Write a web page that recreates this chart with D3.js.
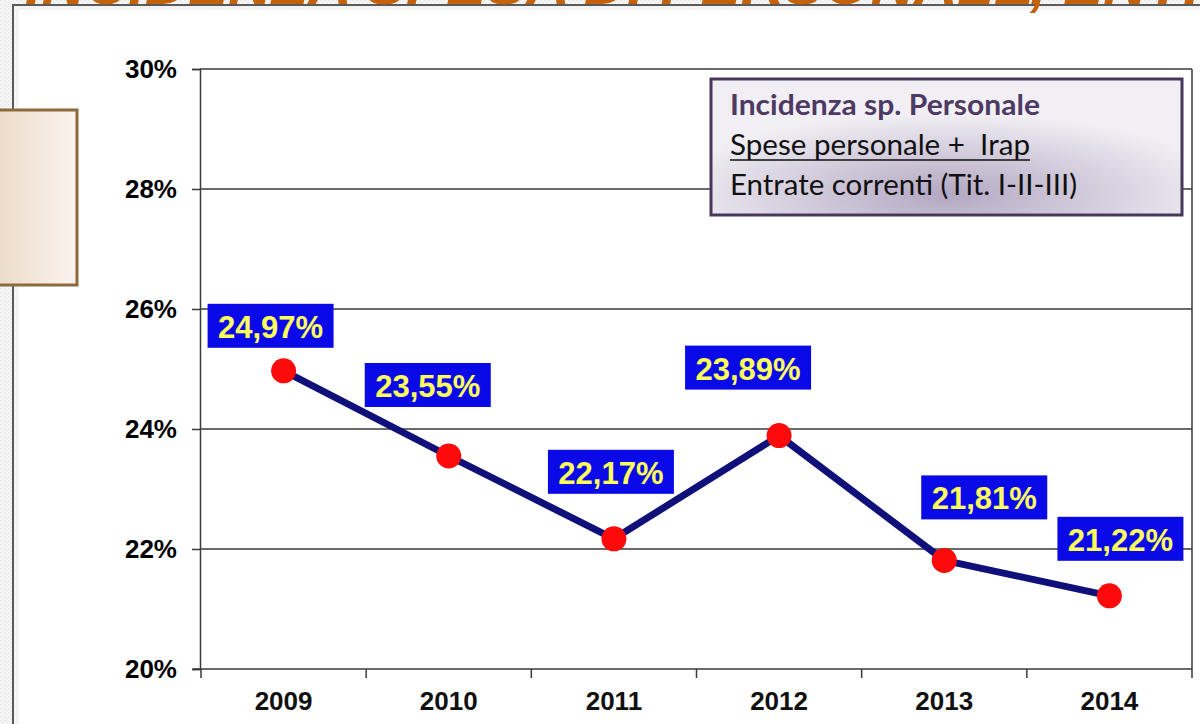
<!DOCTYPE html>
<html>
<head>
<meta charset="utf-8">
<script src="https://cdn.jsdelivr.net/npm/d3@7"></script>
<style>
html,body{margin:0;padding:0;background:#fff;}
svg{display:block;}
</style>
</head>
<body>
<svg id="chart" width="1200" height="724"></svg>
<script>
// ---- data ----
const years = ["2009", "2010", "2011", "2012", "2013", "2014"];
const values = [24.97, 23.55, 22.17, 23.89, 21.81, 21.22];
const valueLabels = ["24,97%", "23,55%", "22,17%", "23,89%", "21,81%", "21,22%"];
const yTicks = [20, 22, 24, 26, 28, 30];
const yTickLabels = ["20%", "22%", "24%", "26%", "28%", "30%"];
const legendLines = ["Incidenza sp. Personale", "Spese personale +  Irap", "Entrate correnti (Tit. I-II-III)"];
const titleText = ["INCIDENZA SPESA DI PERSONALE", ", ENTRATE CORRENTI"];

// ---- drawing ----
const svg = d3.select("#chart");
const defs = svg.append("defs");

// slide background (outside content frame)
const pat = defs.append("pattern").attr("id","speck").attr("width",4).attr("height",4).attr("patternUnits","userSpaceOnUse");
pat.append("rect").attr("width",4).attr("height",4).attr("fill","#f4f4f4");
pat.append("rect").attr("x",0).attr("y",0).attr("width",1).attr("height",1).attr("fill","#e2e2e2");
pat.append("rect").attr("x",2).attr("y",2).attr("width",1).attr("height",1).attr("fill","#e6e6e6");
svg.append("rect").attr("x",0).attr("y",0).attr("width",1200).attr("height",724).attr("fill","url(#speck)");
svg.append("rect").attr("x",13).attr("y",5).attr("width",1187).attr("height",719).attr("fill","#ffffff");
svg.append("rect").attr("x",14).attr("y",6).attr("width",1186).attr("height",4).attr("fill","#f3f3f3");
svg.append("rect").attr("x",14).attr("y",6).attr("width",5).attr("height",718).attr("fill","#f5f5f5");
svg.append("line").attr("x1",12).attr("x2",1200).attr("y1",5).attr("y2",5).attr("stroke","#5a5a5a").attr("stroke-width",2);
svg.append("line").attr("x1",13).attr("x2",13).attr("y1",4).attr("y2",724).attr("stroke","#5a5a5a").attr("stroke-width",2);

// cut-off title (the original slide title is cropped at the top edge)
const tg = svg.append("g").attr("font-family","Liberation Sans, Arial, sans-serif")
  .attr("font-weight","bold").attr("font-style","italic").attr("font-size",60).attr("fill","#c4620c");
tg.append("text").attr("x",1034).attr("y",4).attr("text-anchor","end").text(titleText[0]);
tg.append("text").attr("x",1030).attr("y",4).text(titleText[1]);

// beige box at left
const bg = defs.append("linearGradient").attr("id","beige").attr("x1","0").attr("x2","1").attr("y1","0").attr("y2","0");
bg.append("stop").attr("offset","0").attr("stop-color","#ecdbc8");
bg.append("stop").attr("offset","1").attr("stop-color","#faf4ef");
svg.append("rect").attr("x",-3).attr("y",110).attr("width",80).attr("height",175)
  .attr("fill","url(#beige)").attr("stroke","#8b6a3e").attr("stroke-width",3);

// scales
const x = d3.scaleBand().domain(years).range([201, 1192]).padding(0);
const y = d3.scaleLinear().domain([20, 30]).range([669, 69]);

// gridlines
svg.append("g").selectAll("line").data(yTicks.filter(t => t > 20)).join("line")
  .attr("x1",200).attr("x2",1192).attr("y1",d=>y(d)).attr("y2",d=>y(d))
  .attr("stroke","#3a3a3a").attr("stroke-width",1.5);

// plot right edge
svg.append("line").attr("x1",1192).attr("x2",1192).attr("y1",y(30)).attr("y2",y(20))
  .attr("stroke","#3a3a3a").attr("stroke-width",1.5);

// y axis
const yAxis = d3.axisLeft(y).tickValues(yTicks).tickSize(8).tickFormat((d,i)=>yTickLabels[i]).tickPadding(15);
const ya = svg.append("g").attr("transform","translate(200,0)").call(yAxis);
ya.select(".domain").attr("stroke","#3a3a3a").attr("stroke-width",1.5);
ya.selectAll(".tick line").attr("stroke","#3a3a3a").attr("stroke-width",1.5);
ya.selectAll(".tick text").attr("font-family","Liberation Sans, Arial, sans-serif")
  .attr("font-weight","bold").attr("font-size",26).attr("fill","#000");

// x axis with ticks at category boundaries
const xa = svg.append("g").attr("transform","translate(0,669)");
xa.append("line").attr("x1",193).attr("x2",1192).attr("y1",0).attr("y2",0).attr("stroke","#3a3a3a").attr("stroke-width",1.5);
const boundaries = years.map(d => x(d)).concat([x(years[years.length-1]) + x.bandwidth()]);
xa.selectAll("line.tk").data(boundaries).join("line").attr("class","tk")
  .attr("x1",d=>d).attr("x2",d=>d).attr("y1",0).attr("y2",9).attr("stroke","#3a3a3a").attr("stroke-width",1.5);
xa.selectAll("text").data(years).join("text")
  .attr("x",d=>x(d)+x.bandwidth()/2).attr("y",41).attr("text-anchor","middle")
  .attr("font-family","Liberation Sans, Arial, sans-serif").attr("font-weight","bold").attr("font-size",26)
  .attr("fill","#111").text(d=>d);

// legend box
const lg = defs.append("radialGradient").attr("id","lav").attr("cx","0.5").attr("cy","0.85").attr("r","0.6");
lg.append("stop").attr("offset","0").attr("stop-color","#b3a7c2");
lg.append("stop").attr("offset","0.6").attr("stop-color","#d8d2e0");
lg.append("stop").attr("offset","1").attr("stop-color","#f1eff4");
svg.append("rect").attr("x",711).attr("y",79).attr("width",471).attr("height",136)
  .attr("fill","url(#lav)").attr("stroke","#48385c").attr("stroke-width",3);
const lgText = svg.append("g").attr("font-family","Lato, 'Open Sans', sans-serif").attr("font-size",28);
const legendWidths = [310, 300, 347];
lgText.selectAll("text").data(legendLines).join("text")
  .attr("x",730).attr("y",(d,i)=>115 + i*40)
  .attr("font-weight",(d,i)=> i===0 ? "bold" : "normal")
  .attr("fill",(d,i)=> i===0 ? "#4d3a63" : "#111")
  .attr("textLength",(d,i)=>legendWidths[i]).attr("lengthAdjust","spacingAndGlyphs")
  .text(d=>d.replace(/  /g, " \u00a0"));
svg.append("line").attr("x1",730).attr("x2",1030).attr("y1",160).attr("y2",160).attr("stroke","#111").attr("stroke-width",1.5);

// line series
const cx = d => x(d) + x.bandwidth()/2;
const pts = years.map((d,i)=>[cx(d), y(values[i])]);
svg.append("path").datum(pts).attr("d", d3.line())
  .attr("fill","none").attr("stroke","#10107a").attr("stroke-width",7).attr("stroke-linejoin","round");
svg.append("g").selectAll("circle").data(pts).join("circle")
  .attr("cx",d=>d[0]).attr("cy",d=>d[1]).attr("r",12.5).attr("fill","#ff0a0a");

// value labels (manually placed like the original)
const labelOffsets = [[-13,-23],[-21,-49],[-3,-45],[-31,-46],[40,-41],[11,-35]];
const lab = svg.append("g");
pts.forEach((p,i)=>{
  const bx = p[0] + labelOffsets[i][0], by = p[1] + labelOffsets[i][1];
  lab.append("rect").attr("x",bx-63).attr("y",by-44).attr("width",126).attr("height",44).attr("fill","#0a0ae8");
  lab.append("text").attr("x",bx).attr("y",by-10).attr("text-anchor","middle")
    .attr("font-family","Liberation Sans, Arial, sans-serif").attr("font-weight","bold").attr("font-size",31)
    .attr("fill","#ffff5a").text(valueLabels[i]);
});
</script>
</body>
</html>
